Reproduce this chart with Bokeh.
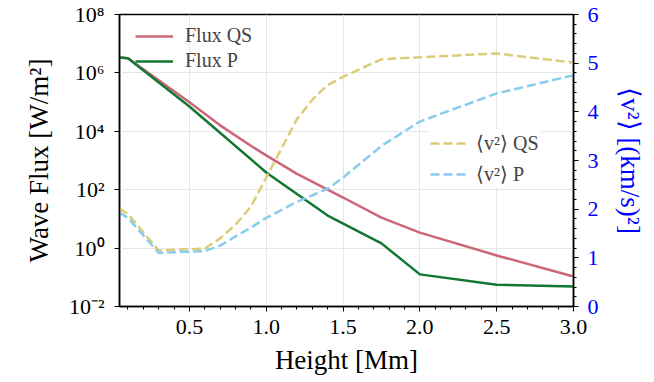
from bokeh.plotting import figure
from bokeh.models import (Range1d, LinearAxis, LinearScale, FixedTicker, CustomJSTickFormatter,
                          PrintfTickFormatter, Legend, LegendItem)
from bokeh.embed import file_html
from bokeh.resources import INLINE

# ---------------- data ----------------
height_flux_qs = [0.045, 0.1, 0.3, 0.5, 0.7, 0.9, 1.0, 1.2, 1.4, 1.5, 1.75, 2.0, 2.5, 3.0]
flux_qs = [3.4e6, 3.2e6, 5.6e5, 9.8e4, 1.6e4, 3.2e3, 1.5e3, 3.5e2, 1.0e2, 54.0, 11.0, 3.4, 0.56, 0.107]

height_flux_p = [0.045, 0.1, 0.5, 1.0, 1.2, 1.4, 1.75, 2.0, 2.5, 3.0]
flux_p = [3.4e6, 3.2e6, 7.1e4, 3.9e2, 71.0, 13.0, 1.45, 0.126, 0.056, 0.048]

height_v2_qs = [0.045, 0.1, 0.3, 0.6, 0.7, 0.8, 0.9, 1.0, 1.1, 1.2, 1.3, 1.4, 1.5, 1.75, 2.0, 2.5, 3.0]
v2_qs = [2.01, 1.90, 1.15, 1.19, 1.40, 1.68, 2.05, 2.65, 3.25, 3.85, 4.25, 4.55, 4.72, 5.08, 5.12, 5.20, 5.01]

height_v2_p = [0.045, 0.1, 0.3, 0.6, 0.7, 0.8, 0.9, 1.0, 1.2, 1.4, 1.5, 1.75, 2.0, 2.5, 3.0]
v2_p = [1.93, 1.82, 1.10, 1.14, 1.25, 1.44, 1.62, 1.82, 2.15, 2.42, 2.65, 3.30, 3.80, 4.38, 4.75]

x_ticks = [0.5, 1.0, 1.5, 2.0, 2.5, 3.0]
x_minor_ticks = [round(0.1 * i, 1) for i in range(1, 30)]
flux_ticks = [1e-2, 1e0, 1e2, 1e4, 1e6, 1e8]
v2_ticks = [0, 1, 2, 3, 4, 5, 6]
v2_minor_ticks = [round(0.2 * i, 1) for i in range(1, 30)]

labels_flux = ["Flux QS", "Flux P"]
labels_v2 = ["\u27e8v\u00b2\u27e9 QS", "\u27e8v\u00b2\u27e9 P"]

FONT = "Liberation Serif"
RED, GREEN, YELLOW, CYAN = "#CC6677", "#117733", "#DDCC77", "#88CCEE"

p = figure(width=654, height=382,
           x_range=Range1d(0.045, 3.0), y_range=Range1d(1e-2, 1e8),
           y_axis_type="log", output_backend="svg", toolbar_location=None,
           min_border_left=119, min_border_right=81, min_border_top=14, min_border_bottom=76)
p.extra_y_ranges = {"v2": Range1d(0, 6)}
p.extra_y_scales = {"v2": LinearScale()}
p.background_fill_color = "white"
p.border_fill_color = "white"
p.outline_line_color = "black"
p.outline_line_width = 1.5

r_qs = p.line(height_flux_qs, flux_qs, line_color=RED, line_width=2.5)
r_p = p.line(height_flux_p, flux_p, line_color=GREEN, line_width=2.5)
r_v2qs = p.line(height_v2_qs, v2_qs, line_color=YELLOW, line_width=2.5,
                line_dash="9 4", y_range_name="v2")
r_v2p = p.line(height_v2_p, v2_p, line_color=CYAN, line_width=2.5,
               line_dash="9 4", y_range_name="v2")

sup_code = """
const sup = {"-": "\u207b", "0": "\u2070", "1": "\u00b9", "2": "\u00b2", "3": "\u00b3",
             "4": "\u2074", "5": "\u2075", "6": "\u2076", "7": "\u2077", "8": "\u2078", "9": "\u2079"};
const e = Math.round(Math.log10(tick));
return "10" + String(e).split("").map(c => sup[c]).join("");
"""

def style_axis(ax, label_color="black"):
    ax.axis_line_color = "black"
    ax.axis_line_width = 1.5
    ax.major_tick_line_color = "black"
    ax.minor_tick_line_color = "black"
    ax.major_tick_out = 5
    ax.major_tick_in = 0
    ax.minor_tick_out = 3
    ax.minor_tick_in = 0
    ax.major_label_text_font = FONT
    ax.major_label_text_font_size = "22px"
    ax.major_label_text_color = label_color
    ax.axis_label_text_font = FONT
    ax.axis_label_text_font_size = "27px"
    ax.axis_label_text_font_style = "normal"
    ax.axis_label_text_color = label_color

xa = p.xaxis[0]
xa.ticker = FixedTicker(ticks=x_ticks, minor_ticks=x_minor_ticks)
xa.formatter = PrintfTickFormatter(format="%.1f")
xa.axis_label = "Height [Mm]"
style_axis(xa)
xa.major_label_standoff = 8
xa.axis_label_standoff = 8

ya = p.yaxis[0]
ya.ticker = FixedTicker(ticks=flux_ticks, minor_ticks=[])
ya.formatter = CustomJSTickFormatter(code=sup_code)
ya.axis_label = "Wave Flux [W/m\u00b2]"
style_axis(ya)
ya.major_label_standoff = 10
ya.axis_label_standoff = 12

ra = LinearAxis(y_range_name="v2",
                ticker=FixedTicker(ticks=v2_ticks, minor_ticks=v2_minor_ticks),
                axis_label="\u27e8v\u00b2\u27e9 [(km/s)\u00b2]")
style_axis(ra, label_color="blue")
ra.major_label_standoff = 9
ra.axis_label_standoff = 13
if "axis_label_orientation" in ra.properties():
    ra.axis_label_orientation = "vertical"
p.add_layout(ra, "right")

p.xgrid.grid_line_color = "#e6e6e6"
p.ygrid.grid_line_color = "#e6e6e6"
p.xgrid.grid_line_width = 1
p.ygrid.grid_line_width = 1

def make_legend(items, loc, standoff, spacing, bg_alpha):
    leg = Legend(items=items, location=loc)
    leg.label_text_font = FONT
    leg.label_text_font_size = "20px"
    leg.glyph_width = 38
    leg.glyph_height = 18
    leg.label_height = 18
    leg.label_standoff = standoff
    leg.spacing = spacing
    leg.padding = 2
    leg.margin = 0
    leg.background_fill_color = "white"
    leg.background_fill_alpha = bg_alpha
    leg.border_line_alpha = 0
    return leg

leg1 = make_legend([LegendItem(label=labels_flux[0], renderers=[r_qs]),
                    LegendItem(label=labels_flux[1], renderers=[r_p])], (14, 232), 12, 2, 0.0)
leg2 = make_legend([LegendItem(label=labels_v2[0], renderers=[r_v2qs]),
                    LegendItem(label=labels_v2[1], renderers=[r_v2p])], (309, 118), 8, 7, 1.0)
p.add_layout(leg1, "center")
p.add_layout(leg2, "center")

open("out.html", "w").write(file_html(p, INLINE))
